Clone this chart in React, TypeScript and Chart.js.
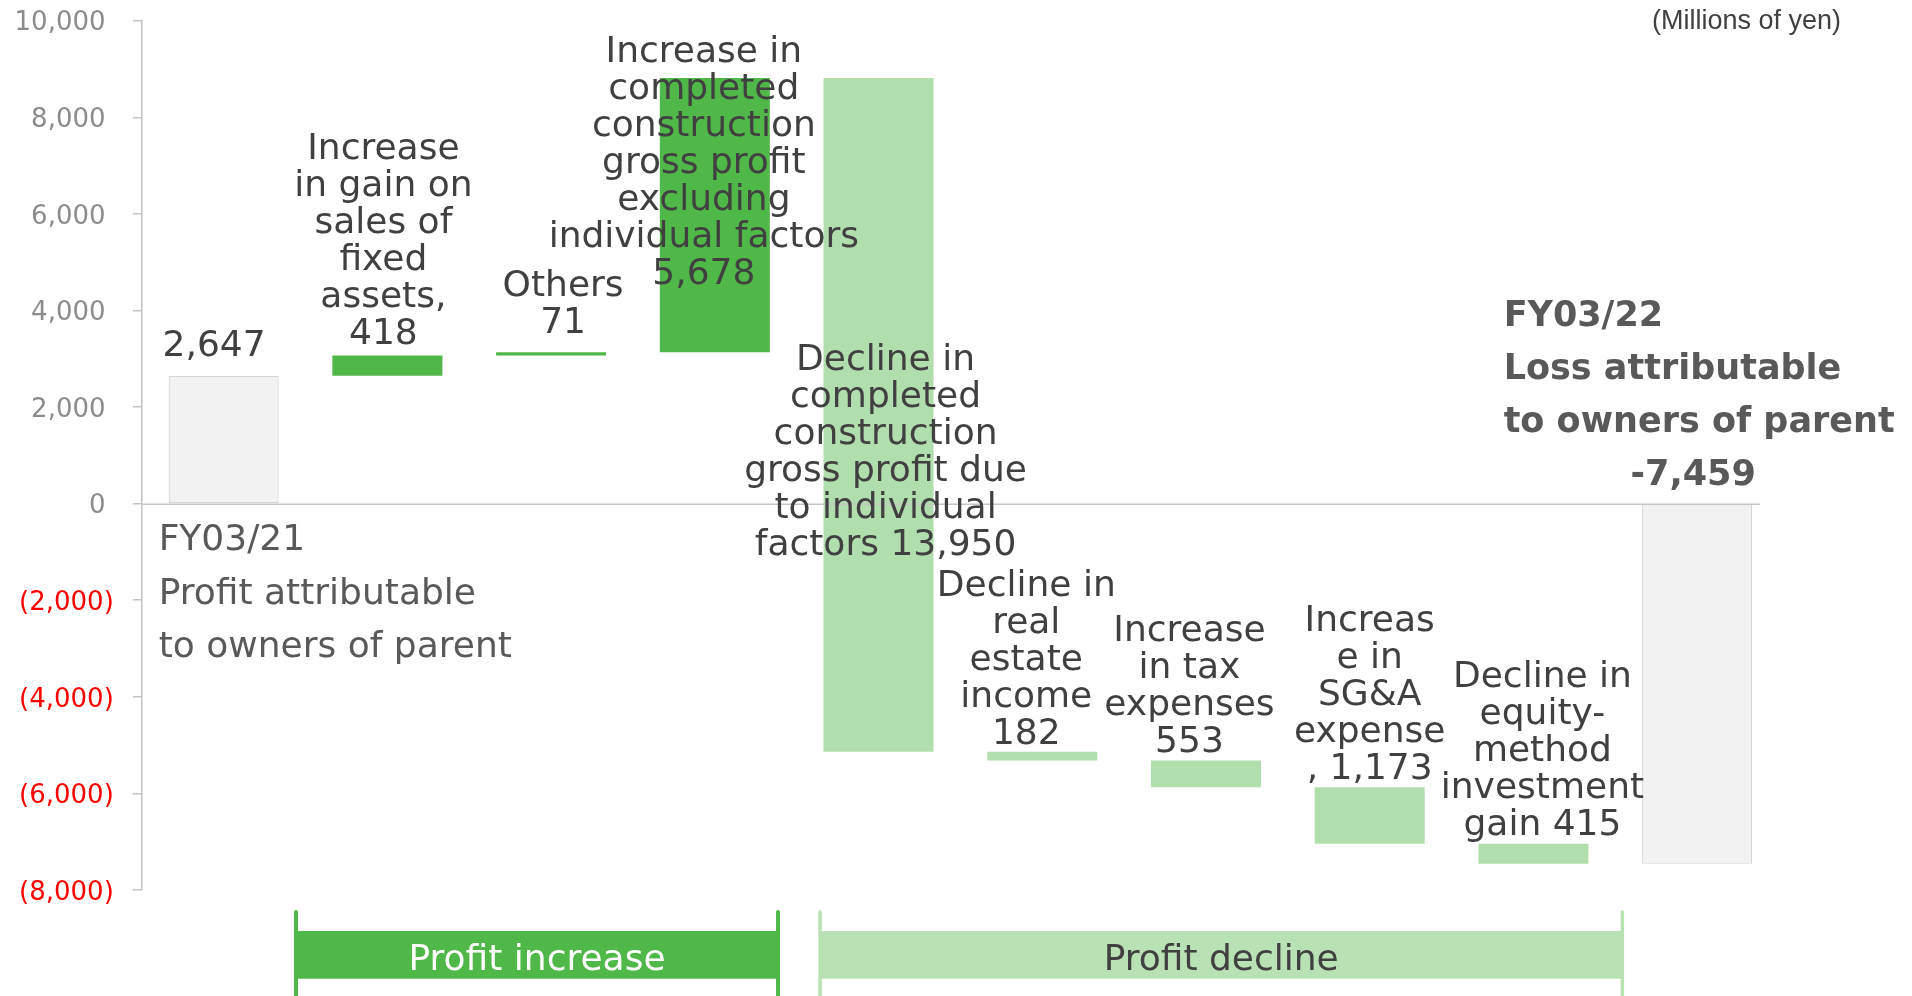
import React, { useEffect, useRef } from 'react';
import { Chart, registerables } from 'chart.js';

Chart.register(...registerables);

// ---------- data ----------
const categories = [
  'FY03/21',
  'Increase in gain on sales of fixed assets',
  'Others',
  'Increase in completed construction gross profit excluding individual factors',
  'Decline in completed construction gross profit due to individual factors',
  'Decline in real estate income',
  'Increase in tax expenses',
  'Increase in SG&A expense',
  'Decline in equity-method investment gain',
  'FY03/22',
];
const startTotal = 2647;
const changes = [418, 71, 5678, -13950, -182, -553, -1173, -415];
const endTotal = -7459;
const kinds = ['total', 'up', 'up', 'up', 'down', 'down', 'down', 'down', 'down', 'total'];

const yTickValues = [-8000, -6000, -4000, -2000, 0, 2000, 4000, 6000, 8000, 10000];

// label text ({v} = absolute value of the bar)
const labelLines = [
  ['{v}'],
  ['Increase', 'in gain on', 'sales of', 'fixed', 'assets,', '{v}'],
  ['Others', '{v}'],
  ['Increase in', 'completed', 'construction', 'gross profit', 'excluding', 'individual factors', '{v}'],
  ['Decline in', 'completed', 'construction', 'gross profit due', 'to individual', 'factors {v}'],
  ['Decline in', 'real', 'estate', 'income', '{v}'],
  ['Increase', 'in tax', 'expenses', '{v}'],
  ['Increas', 'e in', 'SG&A', 'expense', ', {v}'],
  ['Decline in', 'equity-', 'method', 'investment', 'gain {v}'],
];
const startNote = ['FY03/21', 'Profit attributable', 'to owners of parent'];
const endNote = ['FY03/22', 'Loss attributable', 'to owners of parent'];
const unitNote = '(Millions of yen)';
const groupNames = ['Profit increase', 'Profit decline'];

// ---------- derived ----------
const ranges: [number, number][] = [];
{
  let run = startTotal;
  ranges.push([0, startTotal]);
  changes.forEach((c) => {
    ranges.push([run, run + c]);
    run += c;
  });
  ranges.push([0, endTotal]);
}
const absValues = [startTotal, ...changes.map((c) => Math.abs(c)), endTotal];

const fmt = (n: number) => Math.abs(n).toLocaleString('en-US');

// ---------- styles / layout ----------
const DARK = '#50b848';
const LIGHT = '#b0deac';
const LIGHT_BAND = '#b8e2b4';
const GRAY = '#f2f2f2';
const FONT = '"DejaVu Sans"';
const TEXT = '#404040';

const colorFor = (k: string) => (k === 'total' ? GRAY : k === 'up' ? DARK : LIGHT);

// label anchor: baseline of last line in value units, and x offset in px from bar centre
const labelBase = [3050, 3307, 3525, 4539, -1073, -4987, -5142, -5701, -6861];
const labelDx = [-9.6, -4, 12, -11, 7, -16, -16.5, 0, 9];
const LINE_H = 37;

const overlayPlugin = {
  id: 'wfOverlay',
  afterDatasetsDraw(chart: any) {
    const ctx = chart.ctx as CanvasRenderingContext2D;
    const meta = chart.getDatasetMeta(0);
    const ys = chart.scales.y;
    ctx.save();

    // zero line (drawn over bars)
    const last = meta.data[9];
    const y0 = Math.round(ys.getPixelForValue(0)) + 0.25;
    ctx.strokeStyle = '#c6c6c6';
    ctx.lineWidth = 1.5;
    ctx.beginPath();
    ctx.moveTo(chart.chartArea.left, y0);
    ctx.lineTo(last.x + last.width / 2 + 8, y0);
    ctx.stroke();

    ctx.textBaseline = 'alphabetic';
    ctx.textAlign = 'center';
    ctx.fillStyle = TEXT;
    ctx.font = `36px ${FONT}`;
    labelLines.forEach((lines, i) => {
      const el = meta.data[i];
      const cx = el.x + labelDx[i];
      const by = ys.getPixelForValue(labelBase[i]);
      lines.forEach((ln, j) => {
        const t = ln.replace('{v}', fmt(absValues[i]));
        ctx.fillText(t, cx, by - (lines.length - 1 - j) * LINE_H);
      });
    });

    // start note (regular)
    const first = meta.data[0];
    ctx.textAlign = 'left';
    ctx.fillStyle = '#595959';
    ctx.font = `36px ${FONT}`;
    const sy = ys.getPixelForValue(-965);
    startNote.forEach((ln, j) => ctx.fillText(ln, first.x - 65, sy + j * 53.3));

    // end note (bold)
    ctx.font = `bold 35px ${FONT}`;
    const ey = ys.getPixelForValue(377);
    endNote.forEach((ln, j) => ctx.fillText(ln, last.x - 193.5, ey - (3 - j) * 53.3));
    ctx.textAlign = 'center';
    ctx.fillText('-' + fmt(endTotal), last.x - 4, ey);

    // unit note
    ctx.font = `27px "Liberation Sans"`;
    ctx.fillStyle = TEXT;
    ctx.textAlign = 'right';
    ctx.fillText(unitNote, chart.chartArea.right + 62, 29);

    // group brackets
    const xs = chart.scales.x;
    const groups = [
      { from: 0.442, to: 3.386, fill: DARK, line: DARK, text: '#ffffff', lw: 4 },
      { from: 3.643, to: 8.543, fill: LIGHT_BAND, line: LIGHT_BAND, text: TEXT, lw: 3.5 },
    ];
    const H = chart.height;
    groups.forEach((g, gi) => {
      const x1 = xs.getPixelForValue(g.from);
      const x2 = xs.getPixelForValue(g.to);
      ctx.fillStyle = g.fill;
      ctx.fillRect(x1, 931, x2 - x1, 47.7);
      ctx.strokeStyle = g.line;
      ctx.lineWidth = g.lw;
      ctx.lineCap = 'round';
      [x1, x2].forEach((xx) => {
        ctx.beginPath();
        ctx.moveTo(xx, 912);
        ctx.lineTo(xx, H + 5);
        ctx.stroke();
      });
      ctx.fillStyle = g.text;
      ctx.font = `36px ${FONT}`;
      ctx.textAlign = 'center';
      ctx.fillText(groupNames[gi], (x1 + x2) / 2, 970);
    });
    ctx.restore();
  },
};

export default function App() {
  const ref = useRef<HTMLCanvasElement | null>(null);
  useEffect(() => {
    if (!ref.current) return;
    const chart = new Chart(ref.current, {
      type: 'bar',
      data: {
        labels: categories,
        datasets: [
          {
            data: ranges as any,
            backgroundColor: kinds.map(colorFor),
            borderColor: kinds.map((k) => (k === 'total' ? '#d4d4d4' : 'rgba(0,0,0,0)')),
            borderWidth: kinds.map((k) => (k === 'total' ? 1.2 : 0)),
            borderSkipped: false,
            categoryPercentage: 1,
            barPercentage: 0.672,
          },
        ],
      },
      options: {
        animation: false,
        responsive: true,
        maintainAspectRatio: false,
        layout: { padding: { top: 20.7, right: 133, bottom: 106, left: 0 } },
        plugins: { legend: { display: false }, tooltip: { enabled: false } },
        scales: {
          x: { display: false },
          y: {
            min: -8000,
            max: 10000,
            afterFit: (s: any) => {
              s.width = 141.8;
              s.paddingTop = 0;
              s.paddingBottom = 0;
            },
            afterBuildTicks: (s: any) => {
              s.ticks = yTickValues.map((v) => ({ value: v }));
            },
            border: { color: '#c4c4c4', width: 1.5 },
            grid: {
              color: 'rgba(0,0,0,0)',
              tickColor: '#c4c4c4',
              lineWidth: 1.5,
              tickWidth: 1.5,
              tickLength: 9,
              drawOnChartArea: false,
            },
            ticks: {
              padding: 19,
              labelOffset: 3,
              font: { family: 'DejaVu Sans', size: 26 },
              color: (c: any) => (c.tick && c.tick.value < 0 ? '#ff0000' : '#8c8c8c'),
              callback: (v: any) =>
                Number(v) < 0 ? `(${fmt(Number(v))})` : `${fmt(Number(v))}\u2008`,
            },
          },
        },
      },
      plugins: [overlayPlugin],
    });
    return () => chart.destroy();
  }, []);
  return (
    <div style={{ position: 'fixed', left: 0, top: 0, width: 1912, height: 996, background: '#fff' }}>
      <canvas ref={ref} />
    </div>
  );
}
